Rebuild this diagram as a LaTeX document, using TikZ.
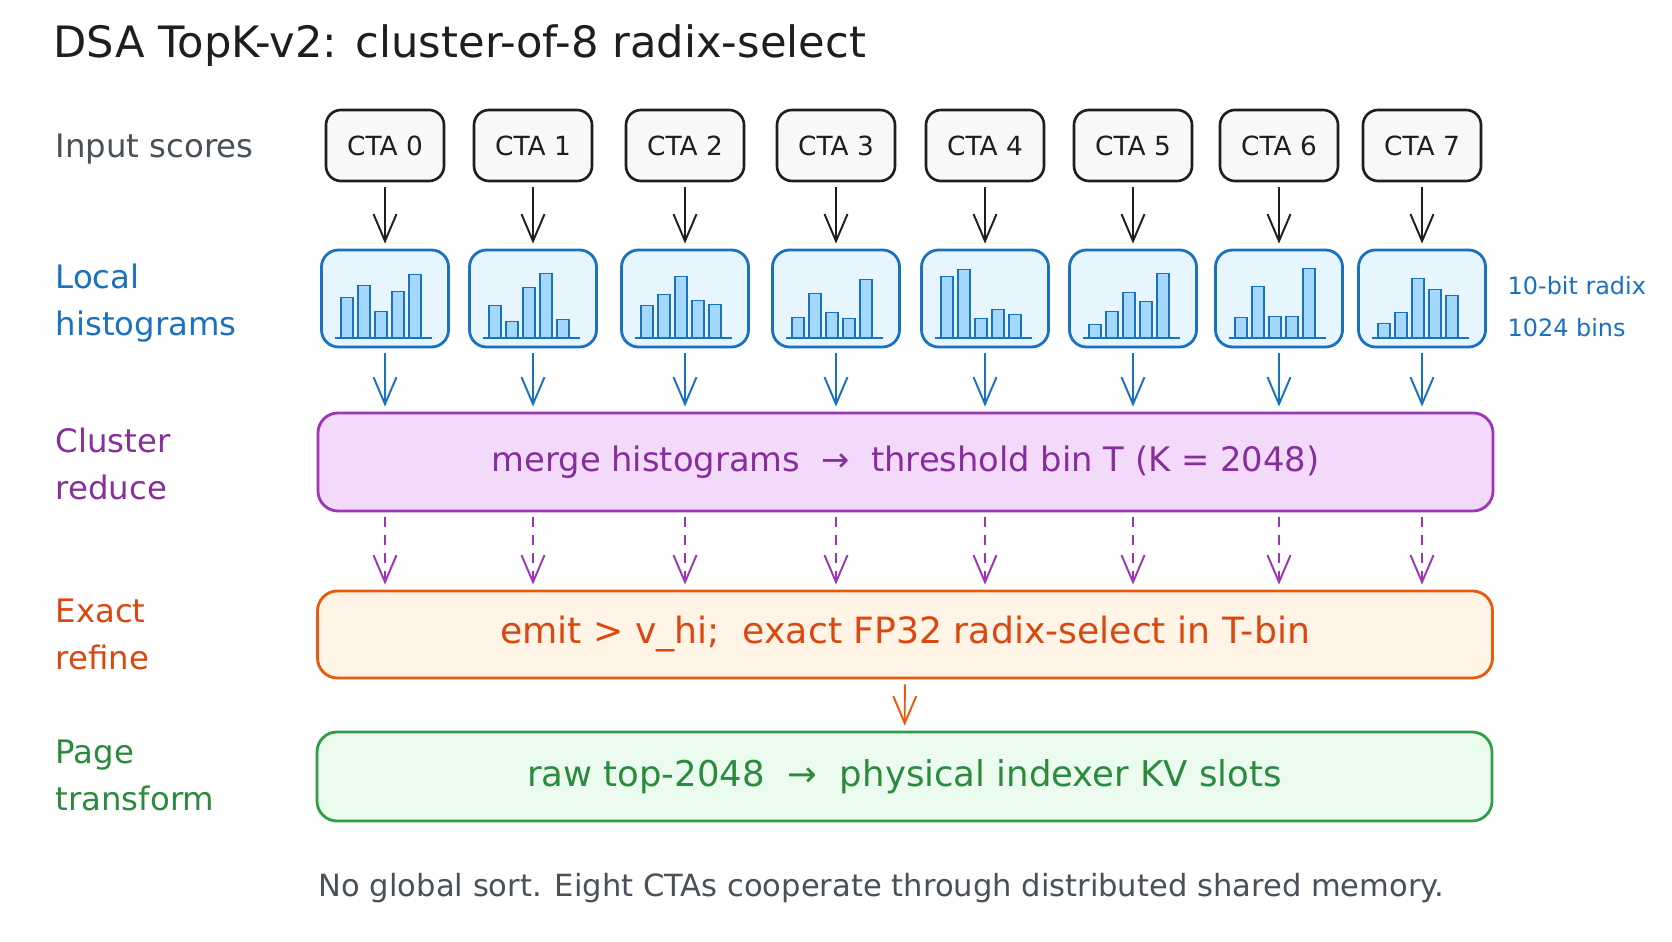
\documentclass[tikz,border=0pt]{standalone}
\usepackage{fontspec}
\setmainfont{DejaVu Sans}
\usetikzlibrary{arrows.meta,calc}
\definecolor{inkclr}{HTML}{1E1E1E}
\definecolor{noteclr}{HTML}{495057}
\definecolor{histclr}{HTML}{1971C2}
\definecolor{histfill}{HTML}{E7F5FF}
\definecolor{barfill}{HTML}{A5D8FF}
\definecolor{redclr}{HTML}{9C36B5}
\definecolor{redtext}{HTML}{862E9C}
\definecolor{redfill}{HTML}{F3D9FA}
\definecolor{refclr}{HTML}{E8590C}
\definecolor{reftext}{HTML}{D9480F}
\definecolor{reffill}{HTML}{FFF4E6}
\definecolor{pageclr}{HTML}{2F9E44}
\definecolor{pagetext}{HTML}{2B8A3E}
\definecolor{pagefill}{HTML}{EBFBEE}
\tikzset{
  cta/.style={rectangle,draw=inkclr,line width=0.75pt,fill=inkclr!3,
              minimum width=11.8mm,minimum height=7.1mm,rounded corners=1.5mm,
              text=inkclr,font=\fontsize{7.5}{9}\selectfont},
  hist/.style={rectangle,draw=histclr,line width=0.8pt,fill=histfill,
               minimum width=12.7mm,minimum height=9.7mm,rounded corners=1.7mm},
  bar/.style={draw=histclr,line width=0.45pt,fill=barfill},
  stage/.style={rectangle,line width=0.8pt,minimum width=117.5mm,
                rounded corners=2mm,font=\fontsize{9.6}{11}\selectfont},
  lbl/.style={anchor=west,inner sep=0pt,align=left,
              font=\fontsize{9.2}{13.4}\selectfont},
  arr/.style={-{Straight Barb[length=2.7mm,width=2.3mm]},line width=0.55pt,
              shorten <=0.5mm,shorten >=0.5mm},
  dashline/.style={dash pattern=on 2.8pt off 2.3pt},
}

\begin{document}
\begin{tikzpicture}
\useasboundingbox[fill=white] (0,0) rectangle (16.72,9.41);

% Title
\node[lbl,text=inkclr,font=\fontsize{12.3}{15}\selectfont] (title) at (0.53,8.95)
  {DSA TopK-v2: cluster-of-8 radix-select};

% Row labels (left)
\node[lbl,text=noteclr] (lin)   at (0.55,7.92)  {Input scores};
\node[lbl,text=histclr] (lhist) at (0.55,6.375) {Local\\histograms};
\node[lbl,text=redtext] (lred)  at (0.55,4.775) {Cluster\\reduce};
\node[lbl,text=reftext] (lref)  at (0.55,3.065) {Exact\\refine};
\node[lbl,text=pagetext] (lpage) at (0.55,1.655) {Page\\transform};

% Radix note (right)
\node[lbl,text=histclr,font=\fontsize{6.8}{12}\selectfont] (radix) at (15.07,6.34)
  {10-bit radix\\1024 bins};

% Stages
\node[stage,draw=redclr,fill=redfill,text=redtext,minimum height=9.8mm] (reduce)
  at (9.055,4.79) {merge histograms \ → \ threshold bin T (K = 2048)};
\node[stage,draw=refclr,fill=reffill,text=reftext,minimum height=8.7mm,
      font=\fontsize{10.3}{12}\selectfont] (refine)
  at (9.05,3.065) {emit > v\_hi; \ exact FP32 radix-select in T-bin};
\node[stage,draw=pageclr,fill=pagefill,text=pagetext,minimum height=8.9mm,
      font=\fontsize{10.1}{12}\selectfont] (page)
  at (9.045,1.645) {raw top-2048 \ → \ physical indexer KV slots};

% CTAs and local histograms
\foreach \x/\hs [count=\n from 0] in {3.85/{41,53,27,47,64},5.33/{33,17,51,65,19},
    6.85/{33,44,62,38,34},8.36/{21,45,26,20,59},9.85/{62,69,20,29,24},
    11.33/{14,27,46,37,65},12.79/{21,52,22,22,70},14.22/{15,26,60,49,43}} {
  \node[cta] (c\n) at (\x,7.955) {CTA \n};
  \node[hist] (h\n) at (\x,6.425) {};
  \draw[arr,draw=inkclr] (c\n) -- (h\n);
  \begin{scope}[shift={(h\n.south)}]
    \foreach \h [count=\k] in \hs
      \draw[bar] (-0.61+0.17*\k,0.1) rectangle ++(0.12,\h/100);
    \draw[histclr,line width=0.6pt] (-0.5,0.1) -- (0.47,0.1);
  \end{scope}
}

% Wiring between stages
\foreach \n in {0,...,7} {
  \draw[arr,histclr] (h\n) -- (h\n |- reduce.north);
  \draw[arr,redclr,dashline] (h\n |- reduce.south) -- (h\n |- refine.north);
}
\draw[arr,refclr] (refine) -- (page);

% Footnote
\node[lbl,text=noteclr,font=\fontsize{8.7}{10}\selectfont] (note) at (3.18,0.53)
  {No global sort. Eight CTAs cooperate through distributed shared memory.};

\end{tikzpicture}
\end{document}
